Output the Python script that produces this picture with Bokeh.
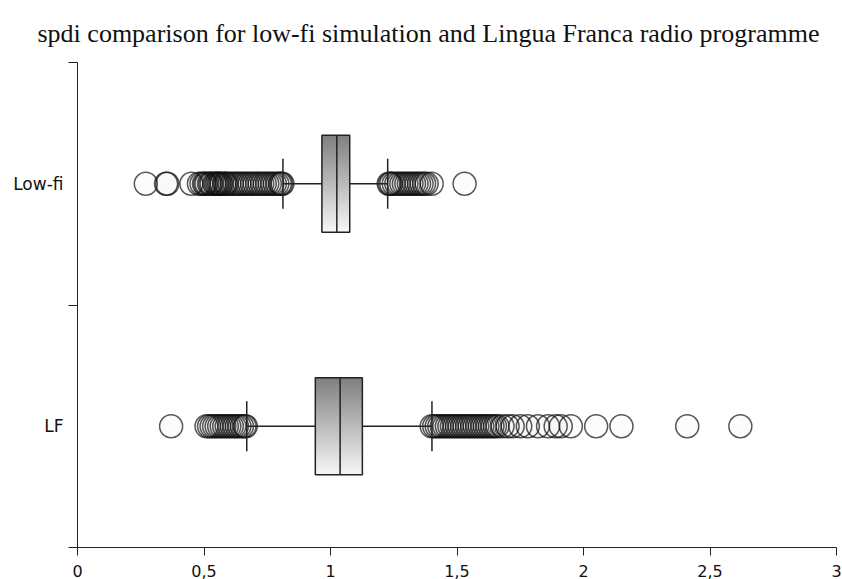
import numpy as np
from bokeh.plotting import figure
from bokeh.models import FixedTicker, Range1d
from bokeh.embed import file_html
from bokeh.resources import INLINE

# ---- data ----
categories = ["LF", "Low-fi"]          # bottom to top
cat_pos = [0.5, 1.5]
q1 = [0.940, 0.966]
median = [1.038, 1.025]
q3 = [1.126, 1.076]
whisk_lo = [0.669, 0.812]
whisk_hi = [1.401, 1.226]

outliers_lowfi = [0.27, 0.35, 0.355, 0.45, 0.48, 0.49, 0.50, 0.505, 0.51, 0.52,
                  0.525, 0.53, 0.54, 0.545, 0.55, 0.555, 0.56, 0.565, 0.57, 0.58,
                  0.585, 0.59, 0.60, 0.61, 0.62, 0.63, 0.64, 0.65, 0.66, 0.67,
                  0.68, 0.69, 0.70, 0.71, 0.72, 0.73, 0.74, 0.75, 0.76, 0.77,
                  0.78, 0.79, 0.80, 0.805, 0.81,
                  1.23, 1.235, 1.24, 1.25, 1.26, 1.27, 1.28, 1.29, 1.30, 1.31,
                  1.32, 1.33, 1.34, 1.35, 1.36, 1.37, 1.38, 1.40, 1.53]
outliers_lf = [0.37, 0.51, 0.52, 0.53, 0.54, 0.55, 0.56, 0.57, 0.58, 0.59,
               0.60, 0.61, 0.62, 0.63, 0.64, 0.65, 0.66, 0.665,
               1.40, 1.41, 1.42, 1.43, 1.44, 1.45, 1.46, 1.47, 1.48, 1.49,
               1.50, 1.51, 1.52, 1.53, 1.54, 1.55, 1.56, 1.57, 1.58, 1.59,
               1.60, 1.61, 1.62, 1.63, 1.64, 1.65, 1.66, 1.68,
               1.70, 1.72, 1.75, 1.78, 1.82, 1.86, 1.89, 1.91, 1.95,
               2.05, 2.15, 2.41, 2.62]

x_ticks = [0, 0.5, 1, 1.5, 2, 2.5, 3]
x_tick_labels = ["0", "0,5", "1", "1,5", "2", "2,5", "3"]

title_text = "spdi comparison for low-fi simulation and Lingua Franca radio programme"

# ---- style ----
BOX_HALF = 0.2
CAP_HALF = 0.103
INK = "#222222"

p = figure(width=842, height=579, x_range=Range1d(0, 3), y_range=Range1d(0, 2),
           output_backend="svg", toolbar_location=None,
           min_border_left=77, min_border_right=6, min_border_top=62,
           min_border_bottom=0)
p.outline_line_color = None
p.xgrid.visible = False
p.ygrid.visible = False
p.background_fill_color = "white"

p.title.text = title_text
p.title.text_font = "Liberation Serif"
p.title.text_font_size = "26px"
p.title.text_font_style = "normal"
p.title.text_color = "#111111"
p.title.align = "left"
p.title.standoff = 30
p.title.offset = -40

# x axis
p.xaxis.ticker = FixedTicker(ticks=x_ticks)
p.xaxis.major_label_overrides = {t: l for t, l in zip(x_ticks, x_tick_labels)}
p.xaxis.major_tick_out = 8
p.xaxis.major_tick_in = 0
p.xaxis.minor_tick_line_color = None
p.xaxis.major_label_text_font = "DejaVu Sans"
p.xaxis.major_label_text_font_size = "16px"
p.xaxis.major_label_text_color = "#111111"
p.xaxis.major_label_standoff = 9
p.xaxis.axis_line_color = INK
p.xaxis.major_tick_line_color = INK

# y axis
p.yaxis.ticker = FixedTicker(ticks=cat_pos, minor_ticks=[0, 1, 2])
p.yaxis.major_label_overrides = {pos: c for pos, c in zip(cat_pos, categories)}
p.yaxis.major_tick_out = 0
p.yaxis.major_tick_in = 0
p.yaxis.minor_tick_out = 9
p.yaxis.minor_tick_in = 0
p.yaxis.minor_tick_line_color = INK
p.yaxis.major_label_text_font = "DejaVu Sans"
p.yaxis.major_label_text_font_size = "17px"
p.yaxis.major_label_text_color = "#111111"
p.yaxis.major_label_standoff = 5
p.yaxis.axis_line_color = INK

# outliers
for vals, pos in [(outliers_lowfi, cat_pos[1]), (outliers_lf, cat_pos[0])]:
    p.scatter(x=vals, y=[pos] * len(vals), size=23, marker="circle",
              fill_color="#777777", fill_alpha=0.02,
              line_color="#111111", line_alpha=0.7, line_width=1.5)

# whiskers and caps
p.segment(x0=q1, y0=cat_pos, x1=whisk_lo, y1=cat_pos, line_color=INK, line_width=1.5)
p.segment(x0=q3, y0=cat_pos, x1=whisk_hi, y1=cat_pos, line_color=INK, line_width=1.5)
cap_bot = [c - CAP_HALF for c in cat_pos]
cap_top = [c + CAP_HALF for c in cat_pos]
p.segment(x0=whisk_lo, y0=cap_bot, x1=whisk_lo, y1=cap_top, line_color=INK, line_width=1.5)
p.segment(x0=whisk_hi, y0=cap_bot, x1=whisk_hi, y1=cap_top, line_color=INK, line_width=1.5)

# boxes with a vertical gray gradient built from thin strips
N = 48
L, R, T, B, C = [], [], [], [], []
for a, b, pos in zip(q1, q3, cat_pos):
    top = pos + BOX_HALF
    h = 2 * BOX_HALF / N
    for i in range(N):
        frac = i / (N - 1)
        g = int(round(0x80 + (0xf6 - 0x80) * frac))
        L.append(a); R.append(b)
        T.append(top - i * h); B.append(max(top - (i + 2) * h, pos - BOX_HALF))
        C.append("#%02x%02x%02x" % (g, g, g))
p.quad(left=L, right=R, top=T, bottom=B, fill_color=C, line_color=None)
p.quad(left=q1, right=q3, top=[c + BOX_HALF for c in cat_pos],
       bottom=[c - BOX_HALF for c in cat_pos],
       fill_color=None, line_color=INK, line_width=1.5)
p.segment(x0=median, y0=[c - BOX_HALF for c in cat_pos], x1=median,
          y1=[c + BOX_HALF for c in cat_pos], line_color=INK, line_width=1.5)

open("out.html", "w").write(file_html(p, INLINE))
